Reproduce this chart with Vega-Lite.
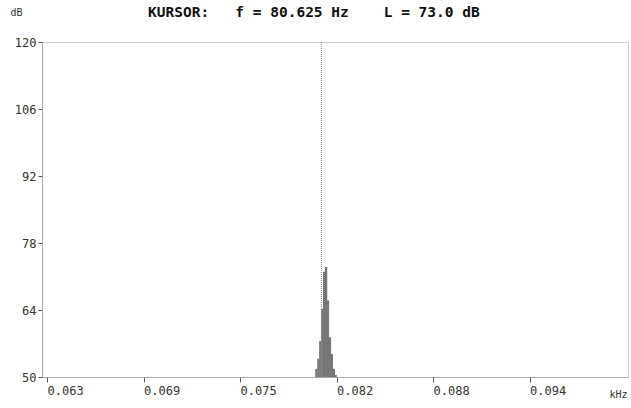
{
  "$schema": "https://vega.github.io/schema/vega-lite/v6.json",
  "width": 586,
  "height": 335,
  "autosize": {"type": "none"},
  "padding": {"left": 42, "top": 42, "right": 3, "bottom": 31},
  "background": "white",
  "title": {
    "text": "KURSOR:\u00a0\u00a0\u00a0f\u00a0=\u00a080.625\u00a0Hz\u00a0\u00a0\u00a0\u00a0L\u00a0=\u00a073.0\u00a0dB",
    "anchor": "start",
    "dx": 138,
    "offset": -13,
    "font": "DejaVu Sans Mono",
    "fontSize": 14.5,
    "fontWeight": "bold",
    "color": "#111"
  },
  "config": {
    "view": {"stroke": "#999", "strokeDash": [1, 1], "strokeWidth": 1},
    "axis": {
      "grid": false,
      "domainColor": "#888",
      "domainDash": [1, 1],
      "tickColor": "#555",
      "labelFont": "DejaVu Sans Mono",
      "labelFontSize": 12,
      "labelColor": "#333",
      "titleFont": "DejaVu Sans Mono",
      "titleFontSize": 10,
      "titleFontWeight": "normal",
      "titleColor": "#333"
    }
  },
  "datasets": {
    "spectrum": [
      {"f": 0.08030, "L": 51.7},
      {"f": 0.08043, "L": 53.8},
      {"f": 0.08055, "L": 57.5},
      {"f": 0.08068, "L": 64.2},
      {"f": 0.08080, "L": 72.0},
      {"f": 0.08093, "L": 73.0},
      {"f": 0.08105, "L": 66.0},
      {"f": 0.08118, "L": 58.3},
      {"f": 0.08130, "L": 54.8},
      {"f": 0.08143, "L": 51.7},
      {"f": 0.08155, "L": 50.4}
    ],
    "cursor": [{"f": 0.080625, "L": 73.0}]
  },
  "layer": [
    {
      "data": {"name": "spectrum"},
      "mark": {"type": "bar", "size": 2.2, "color": "#777", "clip": true},
      "encoding": {
        "x": {
          "field": "f",
          "type": "quantitative",
          "scale": {"domain": [0.063, 0.1], "nice": false, "zero": false},
          "axis": {
            "values": [0.063, 0.0692, 0.0754, 0.0816, 0.0878, 0.094],
            "format": ".3f",
            "labelAlign": "left",
            "labelDx": -4,
            "labelPadding": 3,
            "tickSize": 5,
            "labelFlush": false,
            "title": "kHz",
            "titleAlign": "left",
            "titleBaseline": "middle",
            "titleX": 567,
            "titleY": 17
          }
        },
        "y": {
          "field": "L",
          "type": "quantitative",
          "scale": {"domain": [50, 120], "nice": false, "zero": false},
          "axis": {
            "values": [50, 64, 78, 92, 106, 120],
            "tickSize": 4,
            "labelPadding": 2,
            "title": "dB",
            "titleAngle": 0,
            "titleAlign": "left",
            "titleBaseline": "middle",
            "titleX": -32,
            "titleY": -30
          }
        },
        "y2": {"datum": 50}
      }
    },
    {
      "data": {"name": "cursor"},
      "mark": {"type": "rule", "color": "#888", "strokeDash": [1, 1], "strokeWidth": 1},
      "encoding": {
        "x": {"field": "f", "type": "quantitative"}
      }
    }
  ]
}
